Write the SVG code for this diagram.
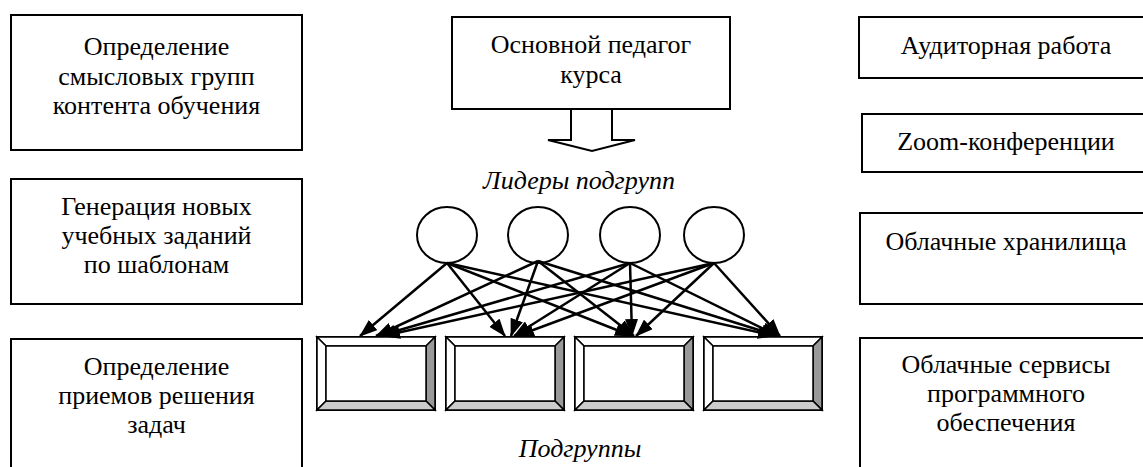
<svg xmlns="http://www.w3.org/2000/svg" width="1143" height="467" viewBox="0 0 1143 467">
<style>
.box{fill:#fff;stroke:#000;stroke-width:2}
.t{font-family:'Liberation Serif',Tinos,'Times New Roman',Times,'DejaVu Serif',serif;font-size:26px;fill:#000;text-anchor:middle}
.it{font-style:italic}
.c{fill:#fff;stroke:#000;stroke-width:2}
.ln{stroke:#000;stroke-width:2.5;fill:none;marker-end:url(#ah)}
.bv{stroke:#000;stroke-width:1.5}
</style>
<defs>
<marker id="ah" viewBox="0 0 18 13" refX="17" refY="6.5" markerWidth="18" markerHeight="13" markerUnits="userSpaceOnUse" orient="auto">
<path d="M0,0 L18,6.5 L0,13 Z" fill="#000"/>
</marker>
<g id="bevel">
<rect x="0" y="0" width="118" height="73" fill="#fff" stroke="#000" stroke-width="2"/>
<polygon points="0,0 118,0 109,9 9,9" fill="#fff" class="bv"/>
<polygon points="0,0 9,9 9,64 0,73" fill="#fff" class="bv"/>
<polygon points="118,0 118,73 109,64 109,9" fill="#999" class="bv"/>
<polygon points="0,73 118,73 109,64 9,64" fill="#ccc" class="bv"/>
<rect x="9" y="9" width="100" height="55" fill="#fff" stroke="#000" stroke-width="1.5"/>
</g>
</defs>
<rect width="1143" height="467" fill="#fff"/>

<g id="left1">
<rect class="box" x="11" y="15" width="291" height="135"/>
<text class="t" x="156.5" y="55">Определение</text>
<text class="t" x="156.5" y="85">смысловых групп</text>
<text class="t" x="156.5" y="114">контента обучения</text>
</g>
<g id="left2">
<rect class="box" x="11" y="179" width="291" height="125"/>
<text class="t" x="156.5" y="215">Генерация новых</text>
<text class="t" x="156.5" y="244">учебных заданий</text>
<text class="t" x="156.5" y="273">по шаблонам</text>
</g>
<g id="left3">
<rect class="box" x="11" y="339" width="291" height="150"/>
<text class="t" x="156.5" y="375">Определение</text>
<text class="t" x="156.5" y="404">приемов решения</text>
<text class="t" x="156.5" y="433">задач</text>
</g>

<g id="teacher">
<rect class="box" x="452" y="17" width="278" height="92"/>
<text class="t" x="591" y="53">Основной педагог</text>
<text class="t" x="591" y="83">курса</text>
</g>
<g id="bigarrow">
<polygon points="571,109 612,109 612,140 635,140 592,151 548,140 571,140" fill="#fff" stroke="#000" stroke-width="2"/>
</g>

<g id="leaders-label">
<text class="t it" x="579" y="189">Лидеры подгрупп</text>
</g>

<g id="leader1"><ellipse class="c" cx="447" cy="235" rx="30" ry="28"/></g>
<g id="leader2"><ellipse class="c" cx="538" cy="235" rx="30" ry="28"/></g>
<g id="leader3"><ellipse class="c" cx="630" cy="235" rx="30" ry="28"/></g>
<g id="leader4"><ellipse class="c" cx="714" cy="235" rx="30" ry="28"/></g>

<g id="sub1"><use href="#bevel" x="317" y="337"/></g>
<g id="sub2"><use href="#bevel" x="446" y="337"/></g>
<g id="sub3"><use href="#bevel" x="575" y="337"/></g>
<g id="sub4"><use href="#bevel" x="704" y="337"/></g>

<g id="connectors">
<line class="ln" x1="447" y1="263" x2="360" y2="336"/>
<line class="ln" x1="447" y1="263" x2="505" y2="336"/>
<line class="ln" x1="447" y1="263" x2="632" y2="336"/>
<line class="ln" x1="447" y1="263" x2="775" y2="336"/>
<line class="ln" x1="538" y1="261" x2="376" y2="336"/>
<line class="ln" x1="538" y1="261" x2="511" y2="336"/>
<line class="ln" x1="538" y1="261" x2="634" y2="336"/>
<line class="ln" x1="538" y1="261" x2="778" y2="336"/>
<line class="ln" x1="630" y1="263" x2="379" y2="336"/>
<line class="ln" x1="630" y1="263" x2="514" y2="336"/>
<line class="ln" x1="630" y1="263" x2="632" y2="336"/>
<line class="ln" x1="630" y1="263" x2="778" y2="336"/>
<line class="ln" x1="714" y1="263" x2="383" y2="336"/>
<line class="ln" x1="714" y1="263" x2="517" y2="336"/>
<line class="ln" x1="714" y1="263" x2="636" y2="336"/>
<line class="ln" x1="714" y1="263" x2="780" y2="336"/>
</g>

<g id="subgroups-label">
<text class="t it" x="580" y="457">Подгруппы</text>
</g>

<g id="right1">
<rect class="box" x="859" y="17" width="300" height="61"/>
<text class="t" x="1006" y="54">Аудиторная работа</text>
</g>
<g id="right2">
<rect class="box" x="862" y="114" width="300" height="58"/>
<text class="t" x="1006" y="150">Zoom-конференции</text>
</g>
<g id="right3">
<rect class="box" x="860" y="213" width="300" height="91"/>
<text class="t" x="1006" y="250">Облачные хранилища</text>
</g>
<g id="right4">
<rect class="box" x="860" y="338" width="300" height="150"/>
<text class="t" x="1006" y="373">Облачные сервисы</text>
<text class="t" x="1006" y="402">программного</text>
<text class="t" x="1006" y="431">обеспечения</text>
</g>
</svg>
